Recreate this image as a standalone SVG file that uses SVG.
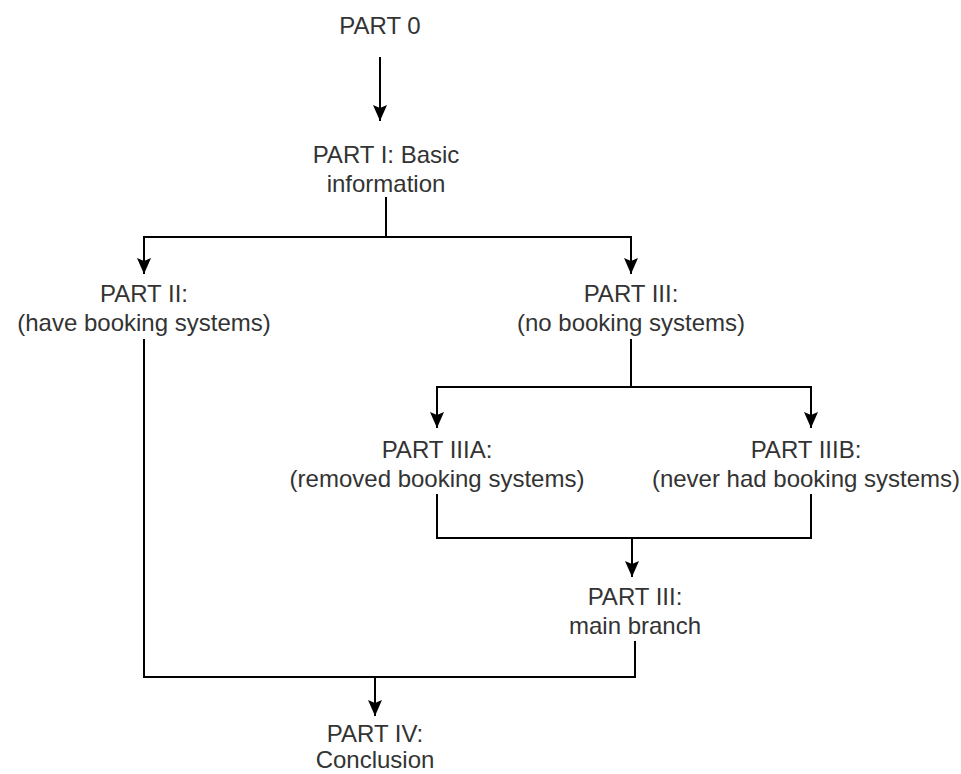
<svg xmlns="http://www.w3.org/2000/svg" width="961" height="774" viewBox="0 0 961 774">
<style>
.t{font-family:"Liberation Sans",Arial,sans-serif;font-size:24px;fill:#333333;text-anchor:middle}
.c{fill:none;stroke:#000;stroke-width:2}
</style>
<defs>
<marker id="ah" markerUnits="userSpaceOnUse" markerWidth="14" markerHeight="16" viewBox="0 0 14 16" refX="7" refY="16" orient="0">
<path d="M0,0 L7,3 L14,0 L7,16 z" fill="#000"/>
</marker>
</defs>
<rect width="961" height="774" fill="#fff"/>
<g id="connectors">
<path class="c" d="M380,57 V121" marker-end="url(#ah)"/>
<path class="c" d="M386,197 V237 H144 V274" marker-end="url(#ah)"/>
<path class="c" d="M386,237 H631 V274" marker-end="url(#ah)"/>
<path class="c" d="M631,339 V387 H437 V428" marker-end="url(#ah)"/>
<path class="c" d="M631,387 H811 V428" marker-end="url(#ah)"/>
<path class="c" d="M437,494 V538 H811 V494"/>
<path class="c" d="M632,538 V577" marker-end="url(#ah)"/>
<path class="c" d="M144,339 V677 H635 V641"/>
<path class="c" d="M375,677 V716" marker-end="url(#ah)"/>
</g>
<g id="part0"><text class="t" x="380" y="34">PART 0</text></g>
<g id="part1"><text class="t" x="386" y="163">PART I: Basic</text><text class="t" x="386" y="192">information</text></g>
<g id="part2"><text class="t" x="144" y="302">PART II:</text><text class="t" x="144" y="331">(have booking systems)</text></g>
<g id="part3"><text class="t" x="631" y="302">PART III:</text><text class="t" x="631" y="331">(no booking systems)</text></g>
<g id="part3a"><text class="t" x="437" y="458">PART IIIA:</text><text class="t" x="437" y="487">(removed booking systems)</text></g>
<g id="part3b"><text class="t" x="806" y="458">PART IIIB:</text><text class="t" x="806" y="487">(never had booking systems)</text></g>
<g id="part3main"><text class="t" x="635" y="605">PART III:</text><text class="t" x="635" y="634">main branch</text></g>
<g id="part4"><text class="t" x="375" y="742">PART IV:</text><text class="t" x="375" y="768">Conclusion</text></g>
</svg>
